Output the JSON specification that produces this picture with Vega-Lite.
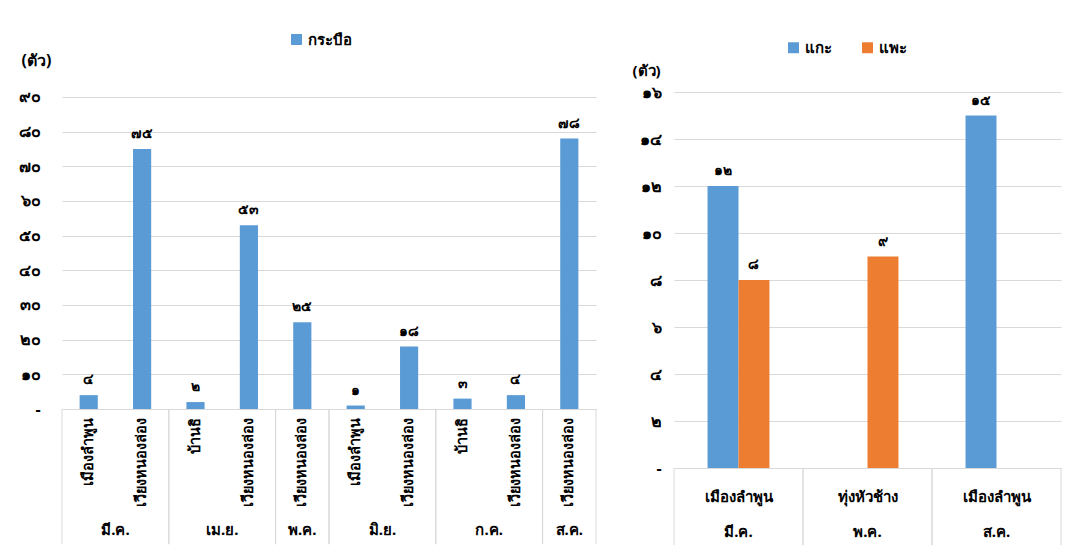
{
  "$schema": "https://vega.github.io/schema/vega-lite/v6.json",
  "background": "white",
  "padding": {"left": 18, "top": 32, "right": 8, "bottom": 4},
  "spacing": 35,
  "resolve": {"scale": {"color": "independent"}, "legend": {"color": "independent"}},
  "config": {
    "view": {"stroke": null},
    "font": "Noto Sans",
    "axis": {"labelFont": "Noto Sans", "labelFontWeight": "bold", "labelColor": "#000000", "labelFontSize": 15, "labelOverlap": false, "gridColor": "#d9d9d9", "domainColor": "#d9d9d9", "tickColor": "#d9d9d9", "titleFont": "Noto Sans", "titleFontWeight": "bold", "titleFontSize": 16, "titleColor": "#000000"},
    "legend": {"labelFont": "Noto Sans", "labelFontWeight": "bold", "labelFontSize": 15, "labelColor": "#000000", "symbolType": "square", "symbolSize": 120, "symbolStrokeWidth": 0}
  },
  "datasets": {
    "buffalo": [
      {"month": "มี.ค.", "station": "เมืองลำพูน", "key": "มี.ค.|เมืองลำพูน", "animal": "กระบือ", "n": 4, "th": "๔"},
      {"month": "มี.ค.", "station": "เวียงหนองล่อง", "key": "มี.ค.|เวียงหนองล่อง", "animal": "กระบือ", "n": 75, "th": "๗๕"},
      {"month": "เม.ย.", "station": "บ้านธิ", "key": "เม.ย.|บ้านธิ", "animal": "กระบือ", "n": 2, "th": "๒"},
      {"month": "เม.ย.", "station": "เวียงหนองล่อง", "key": "เม.ย.|เวียงหนองล่อง", "animal": "กระบือ", "n": 53, "th": "๕๓"},
      {"month": "พ.ค.", "station": "เวียงหนองล่อง", "key": "พ.ค.|เวียงหนองล่อง", "animal": "กระบือ", "n": 25, "th": "๒๕"},
      {"month": "มิ.ย.", "station": "เมืองลำพูน", "key": "มิ.ย.|เมืองลำพูน", "animal": "กระบือ", "n": 1, "th": "๑"},
      {"month": "มิ.ย.", "station": "เวียงหนองล่อง", "key": "มิ.ย.|เวียงหนองล่อง", "animal": "กระบือ", "n": 18, "th": "๑๘"},
      {"month": "ก.ค.", "station": "บ้านธิ", "key": "ก.ค.|บ้านธิ", "animal": "กระบือ", "n": 3, "th": "๓"},
      {"month": "ก.ค.", "station": "เวียงหนองล่อง", "key": "ก.ค.|เวียงหนองล่อง", "animal": "กระบือ", "n": 4, "th": "๔"},
      {"month": "ส.ค.", "station": "เวียงหนองล่อง", "key": "ส.ค.|เวียงหนองล่อง", "animal": "กระบือ", "n": 78, "th": "๗๘"}
    ],
    "months": [
      {"month": "มี.ค.", "count": 2},
      {"month": "เม.ย.", "count": 2},
      {"month": "พ.ค.", "count": 1},
      {"month": "มิ.ย.", "count": 2},
      {"month": "ก.ค.", "count": 2},
      {"month": "ส.ค.", "count": 1}
    ],
    "goats": [
      {"key": "มี.ค.|เมืองลำพูน", "animal": "แกะ", "n": 12, "th": "๑๒"},
      {"key": "มี.ค.|เมืองลำพูน", "animal": "แพะ", "n": 8, "th": "๘"},
      {"key": "พ.ค.|ทุ่งหัวช้าง", "animal": "แพะ", "n": 9, "th": "๙"},
      {"key": "ส.ค.|เมืองลำพูน", "animal": "แกะ", "n": 15, "th": "๑๕"}
    ],
    "goatcats": [
      {"key": "มี.ค.|เมืองลำพูน", "count": 1},
      {"key": "พ.ค.|ทุ่งหัวช้าง", "count": 1},
      {"key": "ส.ค.|เมืองลำพูน", "count": 1}
    ]
  },
  "hconcat": [
    {
      "width": 534,
      "height": 317,
      "layer": [
        {
          "data": {"name": "buffalo"},
          "layer": [
            {
              "mark": {"type": "bar"},
              "encoding": {
                "x": {"field": "key", "type": "nominal", "sort": null,
                  "scale": {"paddingInner": 0.66, "paddingOuter": 0.33},
                  "axis": {"title": null, "labelExpr": "split(datum.label,'|')[1]", "labelAngle": -90, "labelPadding": 8, "ticks": false, "domain": true, "labelFontSize": 14.5}},
                "y": {"field": "n", "type": "quantitative",
                  "scale": {"domain": [0, 91.44], "nice": false},
                  "axis": {"values": [0, 10, 20, 30, 40, 50, 60, 70, 80, 90], "tickCount": 10, "title": "(ตัว)", "titleAngle": 0, "titleX": -41, "titleY": -32, "titleAlign": "left", "titleBaseline": "middle", "domain": false, "ticks": false, "labelPadding": 22, "labelFontSize": 16,
                    "labelExpr": "datum.value == 0 ? '-' : replace(replace(replace(replace(replace(replace(replace(replace(replace(replace(datum.label,'0','๐'),'1','๑'),'2','๒'),'3','๓'),'4','๔'),'5','๕'),'6','๖'),'7','๗'),'8','๘'),'9','๙')"}},
                "color": {"field": "animal", "type": "nominal", "scale": {"range": ["#5B9BD5"]},
                  "legend": {"orient": "none", "legendX": 227, "legendY": -60, "title": null}}
              }
            },
            {
              "mark": {"type": "text", "dy": -15, "fontWeight": "bold", "fontSize": 14, "color": "#000000"},
              "encoding": {
                "x": {"field": "key", "type": "nominal", "sort": null},
                "y": {"field": "n", "type": "quantitative", "axis": {"values": [0, 10, 20, 30, 40, 50, 60, 70, 80, 90], "tickCount": 10}},
                "text": {"field": "th"}
              }
            }
          ]
        },
        {
          "data": {"name": "months"},
          "transform": [
            {"window": [{"op": "sum", "field": "count", "as": "end"}]},
            {"calculate": "datum.end - datum.count", "as": "start"},
            {"calculate": "datum.end - datum.count / 2", "as": "mid"}
          ],
          "layer": [
            {
              "mark": {"type": "rule", "color": "#d9d9d9"},
              "encoding": {
                "x": {"field": "start", "type": "quantitative", "scale": {"domain": [0, 10], "nice": false}, "axis": null},
                "y": {"datum": 0, "axis": {"values": [0, 10, 20, 30, 40, 50, 60, 70, 80, 90], "tickCount": 10}},
                "y2": {"datum": -39}
              }
            },
            {
              "mark": {"type": "rule", "color": "#d9d9d9"},
              "encoding": {
                "x": {"field": "end", "type": "quantitative"},
                "y": {"datum": 0, "axis": {"values": [0, 10, 20, 30, 40, 50, 60, 70, 80, 90], "tickCount": 10}},
                "y2": {"datum": -39}
              }
            },
            {
              "mark": {"type": "text", "fontWeight": "bold", "fontSize": 15, "color": "#000000", "baseline": "middle"},
              "encoding": {
                "x": {"field": "mid", "type": "quantitative"},
                "y": {"datum": -35, "axis": {"values": [0, 10, 20, 30, 40, 50, 60, 70, 80, 90], "tickCount": 10}},
                "text": {"field": "month"}
              }
            }
          ]
        }
      ],
      "resolve": {"scale": {"x": "independent"}, "axis": {"x": "independent"}}
    },
    {
      "width": 387,
      "height": 376,
      "layer": [
        {
          "data": {"name": "goats"},
          "layer": [
            {
              "mark": {"type": "bar"},
              "encoding": {
                "x": {"field": "key", "type": "nominal", "sort": null,
                  "scale": {"paddingInner": 0.52, "paddingOuter": 0.26},
                  "axis": {"title": null, "labelExpr": "[split(datum.label,'|')[1], split(datum.label,'|')[0]]", "labelAngle": 0, "ticks": false, "domain": true, "labelPadding": 21, "labelLineHeight": 35, "labelFontSize": 15}},
                "xOffset": {"field": "animal", "scale": {"domain": ["แกะ", "แพะ"]}},
                "y": {"field": "n", "type": "quantitative",
                  "scale": {"domain": [0, 16], "nice": false},
                  "axis": {"values": [0, 2, 4, 6, 8, 10, 12, 14, 16], "title": "(ตัว)", "titleAngle": 0, "titleX": -42, "titleY": -22, "titleAlign": "left", "titleBaseline": "middle", "titleFontSize": 15, "domain": false, "ticks": false, "labelPadding": 13, "labelFontSize": 16,
                    "labelExpr": "datum.value == 0 ? '-' : replace(replace(replace(replace(replace(replace(replace(replace(replace(replace(datum.label,'0','๐'),'1','๑'),'2','๒'),'3','๓'),'4','๔'),'5','๕'),'6','๖'),'7','๗'),'8','๘'),'9','๙')"}},
                "color": {"field": "animal", "type": "nominal", "scale": {"domain": ["แกะ", "แพะ"], "range": ["#5B9BD5", "#ED7D31"]},
                  "legend": {"orient": "none", "direction": "horizontal", "legendX": 112, "legendY": -52, "title": null, "columnPadding": 28}}
              }
            },
            {
              "mark": {"type": "text", "dy": -15, "fontWeight": "bold", "fontSize": 14, "color": "#000000"},
              "encoding": {
                "x": {"field": "key", "type": "nominal", "sort": null},
                "xOffset": {"field": "animal", "scale": {"domain": ["แกะ", "แพะ"]}},
                "y": {"field": "n", "type": "quantitative"},
                "text": {"field": "th"}
              }
            }
          ]
        },
        {
          "data": {"name": "goatcats"},
          "transform": [
            {"window": [{"op": "sum", "field": "count", "as": "end"}]},
            {"calculate": "datum.end - datum.count", "as": "start"}
          ],
          "layer": [
            {
              "mark": {"type": "rule", "color": "#d9d9d9"},
              "encoding": {
                "x": {"field": "start", "type": "quantitative", "scale": {"domain": [0, 3], "nice": false}, "axis": null},
                "y": {"datum": 0},
                "y2": {"datum": -3.28}
              }
            },
            {
              "mark": {"type": "rule", "color": "#d9d9d9"},
              "encoding": {
                "x": {"field": "end", "type": "quantitative"},
                "y": {"datum": 0},
                "y2": {"datum": -3.28}
              }
            }
          ]
        }
      ],
      "resolve": {"scale": {"x": "independent"}, "axis": {"x": "independent"}}
    }
  ]
}
